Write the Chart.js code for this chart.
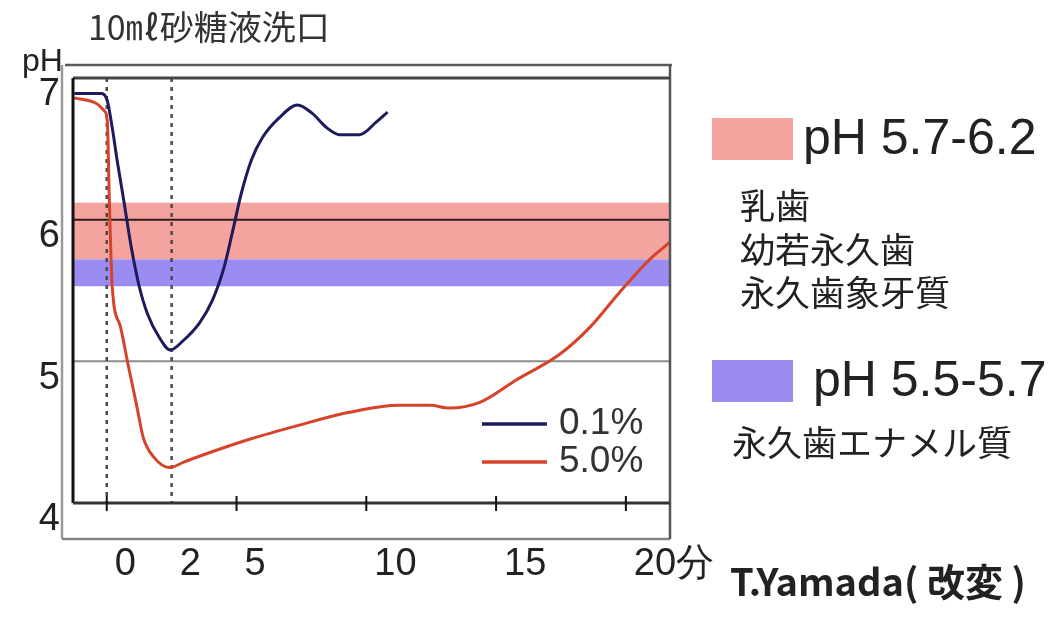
<!DOCTYPE html>
<html>
<head>
<meta charset="utf-8">
<script src="https://cdn.jsdelivr.net/npm/chart.js@4"></script>
<style>
body{margin:0;background:#fff;}
#wrap{width:1055px;height:617px;position:relative;}
</style>
</head>
<body>
<div id="wrap"><canvas id="c"></canvas></div>
<script>
// 0.1% rinse
const timeA=[-1.25,-0.2,0.02,0.21,0.4,0.67,0.94,1.25,1.56,2.02,2.45,2.91,3.57,4.07,4.53,4.84,5.19,5.57,6.0,6.65,7.35,7.92,8.47,8.97,9.74,10.39,10.82];
const phA=[6.89,6.89,6.84,6.65,6.42,6.12,5.81,5.53,5.34,5.17,5.08,5.14,5.27,5.43,5.67,5.91,6.19,6.42,6.58,6.72,6.81,6.75,6.65,6.6,6.6,6.69,6.76];
// 5.0% rinse
const timeB=[-1.25,-0.4,-0.1,0.02,0.1,0.21,0.52,0.83,1.14,1.41,1.83,2.41,2.99,3.57,5.5,7.42,9.35,11.28,12.44,13.21,14.37,15.79,17.45,18.61,19.77,20.92,21.69];
const phB=[6.86,6.82,6.77,6.70,6.14,5.53,5.25,4.97,4.70,4.46,4.32,4.25,4.29,4.33,4.45,4.55,4.64,4.69,4.69,4.67,4.71,4.87,5.05,5.24,5.49,5.72,5.84];

const seriesNames=["0.1%","5.0%"];
const seriesColors=["#1c1c5c","#d6432a"];

const xTickValues=[0,2.5,5,10,15,20];
const xTickLabels=["0","2","5","10","15","20分"];
const xTickMarks=[0,5,10,15,20];
const yTickValues=[4,5,6,7];

// critical pH bands
const bandLow=[5.72,5.53];
const bandHigh=[6.12,5.72];
const bandColors=["#f5a39e","#9b8cf2"];
const bandLabels=["pH 5.7-6.2","pH 5.5-5.7"];
const bandNotes=[["乳歯","幼若永久歯","永久歯象牙質"],["永久歯エナメル質"]];

const hLines=[6,5];
const hLineColors=["#2b1b1b","#8c8c8c"];
const vLines=[0,2.5];

const title="10㎖砂糖液洗口";
const credit="T.Yamada( 改変 )";

function pts(t,p){return t.map((v,i)=>({x:v,y:p[i]}));}

const deco={
id:"deco",
beforeDatasetsDraw(chart){
const {ctx,chartArea:a,scales:{x,y}}=chart;
ctx.save();
bandLow.forEach((lo,i)=>{
const y1=y.getPixelForValue(bandHigh[i]);
const y2=y.getPixelForValue(lo);
ctx.fillStyle=bandColors[i];
ctx.fillRect(a.left,y1,a.right-a.left,y2-y1);
});
hLines.forEach((v,i)=>{
const py=y.getPixelForValue(v);
ctx.strokeStyle=hLineColors[i];
ctx.lineWidth=2;
ctx.beginPath();ctx.moveTo(a.left,py);ctx.lineTo(a.right,py);ctx.stroke();
});
ctx.setLineDash([4,5]);
ctx.strokeStyle="#4a4a4a";
ctx.lineWidth=2.5;
vLines.forEach(v=>{
const px=x.getPixelForValue(v);
ctx.beginPath();ctx.moveTo(px,a.top);ctx.lineTo(px,a.bottom);ctx.stroke();
});
ctx.restore();
},
afterDatasetsDraw(chart){
const {ctx,chartArea:a,scales:{x}}=chart;
ctx.save();
// outer frame
const ol=a.left-11,ot=a.top-13,ob=a.bottom+36;
ctx.lineWidth=2.5;
ctx.strokeStyle="#5a5a5a";
ctx.beginPath();ctx.moveTo(ol+3,ot);ctx.lineTo(a.right+2,ot);ctx.stroke();
ctx.strokeStyle="#9a9a9a";
ctx.beginPath();ctx.moveTo(ol,ot);ctx.lineTo(ol,ob);ctx.stroke();
ctx.strokeStyle="#858585";
ctx.beginPath();ctx.moveTo(ol,ob);ctx.lineTo(a.right,ob);ctx.stroke();
ctx.strokeStyle="#555";
ctx.beginPath();ctx.moveTo(a.right,ot);ctx.lineTo(a.right,ob);ctx.stroke();
// inner frame
ctx.lineWidth=3;
ctx.strokeStyle="#444";
ctx.beginPath();ctx.moveTo(a.left,a.top);ctx.lineTo(a.right,a.top);ctx.stroke();
ctx.strokeStyle="#111";
ctx.beginPath();ctx.moveTo(a.left,a.top);ctx.lineTo(a.left,a.bottom);ctx.stroke();
ctx.strokeStyle="#333";
ctx.beginPath();ctx.moveTo(a.left,a.bottom);ctx.lineTo(a.right,a.bottom);ctx.stroke();
// tick marks
ctx.lineWidth=2;
ctx.strokeStyle="#111";
xTickMarks.forEach(v=>{
const px=x.getPixelForValue(v);
ctx.beginPath();ctx.moveTo(px,a.bottom-7);ctx.lineTo(px,a.bottom+8);ctx.stroke();
});
// series key
ctx.lineWidth=3.5;
seriesNames.forEach((n,i)=>{
const yy=424+i*38;
ctx.strokeStyle=seriesColors[i];
ctx.beginPath();ctx.moveTo(482,yy);ctx.lineTo(547,yy);ctx.stroke();
ctx.fillStyle="#333";
ctx.font="37px 'Liberation Sans', Arial, sans-serif";
ctx.textBaseline="middle";
ctx.textAlign="left";
ctx.fillText(n,559,yy);
});
ctx.restore();
},
afterDraw(chart){
const ctx=chart.ctx;
ctx.save();
ctx.textBaseline="middle";
ctx.textAlign="left";
ctx.fillStyle="#333";
ctx.font="34px 'Noto Sans CJK JP', sans-serif";
ctx.fillText(title,88,27);
ctx.fillStyle="#222";
ctx.font="32px 'Liberation Sans', Arial, sans-serif";
ctx.fillText("pH",22,62);
// band key
const sy=[118,360];
const noteY=[[206,250,293],[443]];
bandLabels.forEach((lab,i)=>{
ctx.fillStyle=bandColors[i];
ctx.fillRect(712,sy[i],81,42);
ctx.fillStyle="#222";
ctx.font="50px 'Liberation Sans', Arial, sans-serif";
ctx.fillText(lab,803+(i*10),sy[i]+22);
ctx.font="35px 'Noto Sans CJK JP', sans-serif";
bandNotes[i].forEach((t,j)=>{
ctx.fillText(t,i?732:740,noteY[i][j]);
});
});
ctx.font="bold 38px 'Noto Sans CJK JP', sans-serif";
ctx.fillText(credit,730,582);
ctx.restore();
}
};

new Chart(document.getElementById("c"),{
type:"line",
data:{
datasets:[
{label:seriesNames[0],data:pts(timeA,phA),borderColor:seriesColors[0],borderWidth:3,pointRadius:0,cubicInterpolationMode:"monotone",fill:false},
{label:seriesNames[1],data:pts(timeB,phB),borderColor:seriesColors[1],borderWidth:3,pointRadius:0,cubicInterpolationMode:"monotone",fill:false}
]
},
options:{
responsive:true,
maintainAspectRatio:false,
animation:false,
layout:{padding:{left:0,top:78,right:385,bottom:0}},
plugins:{legend:{display:false},tooltip:{enabled:false}},
scales:{
x:{
type:"linear",
min:-1.3,
max:21.7,
grid:{display:false,drawTicks:false},
border:{display:false},
afterBuildTicks:s=>{s.ticks=xTickValues.map(v=>({value:v}));},
afterFit:s=>{s.height=114;},
ticks:{
autoSkip:false,
maxRotation:0,
align:"start",
labelOffset:8,
padding:39,
color:"#222",
font:{family:"'Liberation Sans', Arial, sans-serif",size:38},
callback:v=>xTickLabels[xTickValues.indexOf(v)]
}
},
y:{
min:4,
max:7,
grid:{display:false,drawTicks:false},
border:{display:false},
afterBuildTicks:s=>{s.ticks=yTickValues.map(v=>({value:v}));},
afterFit:s=>{s.width=73;},
ticks:{
padding:13,
labelOffset:17,
color:"#222",
font:{family:"'Liberation Sans', Arial, sans-serif",size:38}
}
}
}
},
plugins:[deco]
});
</script>
</body>
</html>
